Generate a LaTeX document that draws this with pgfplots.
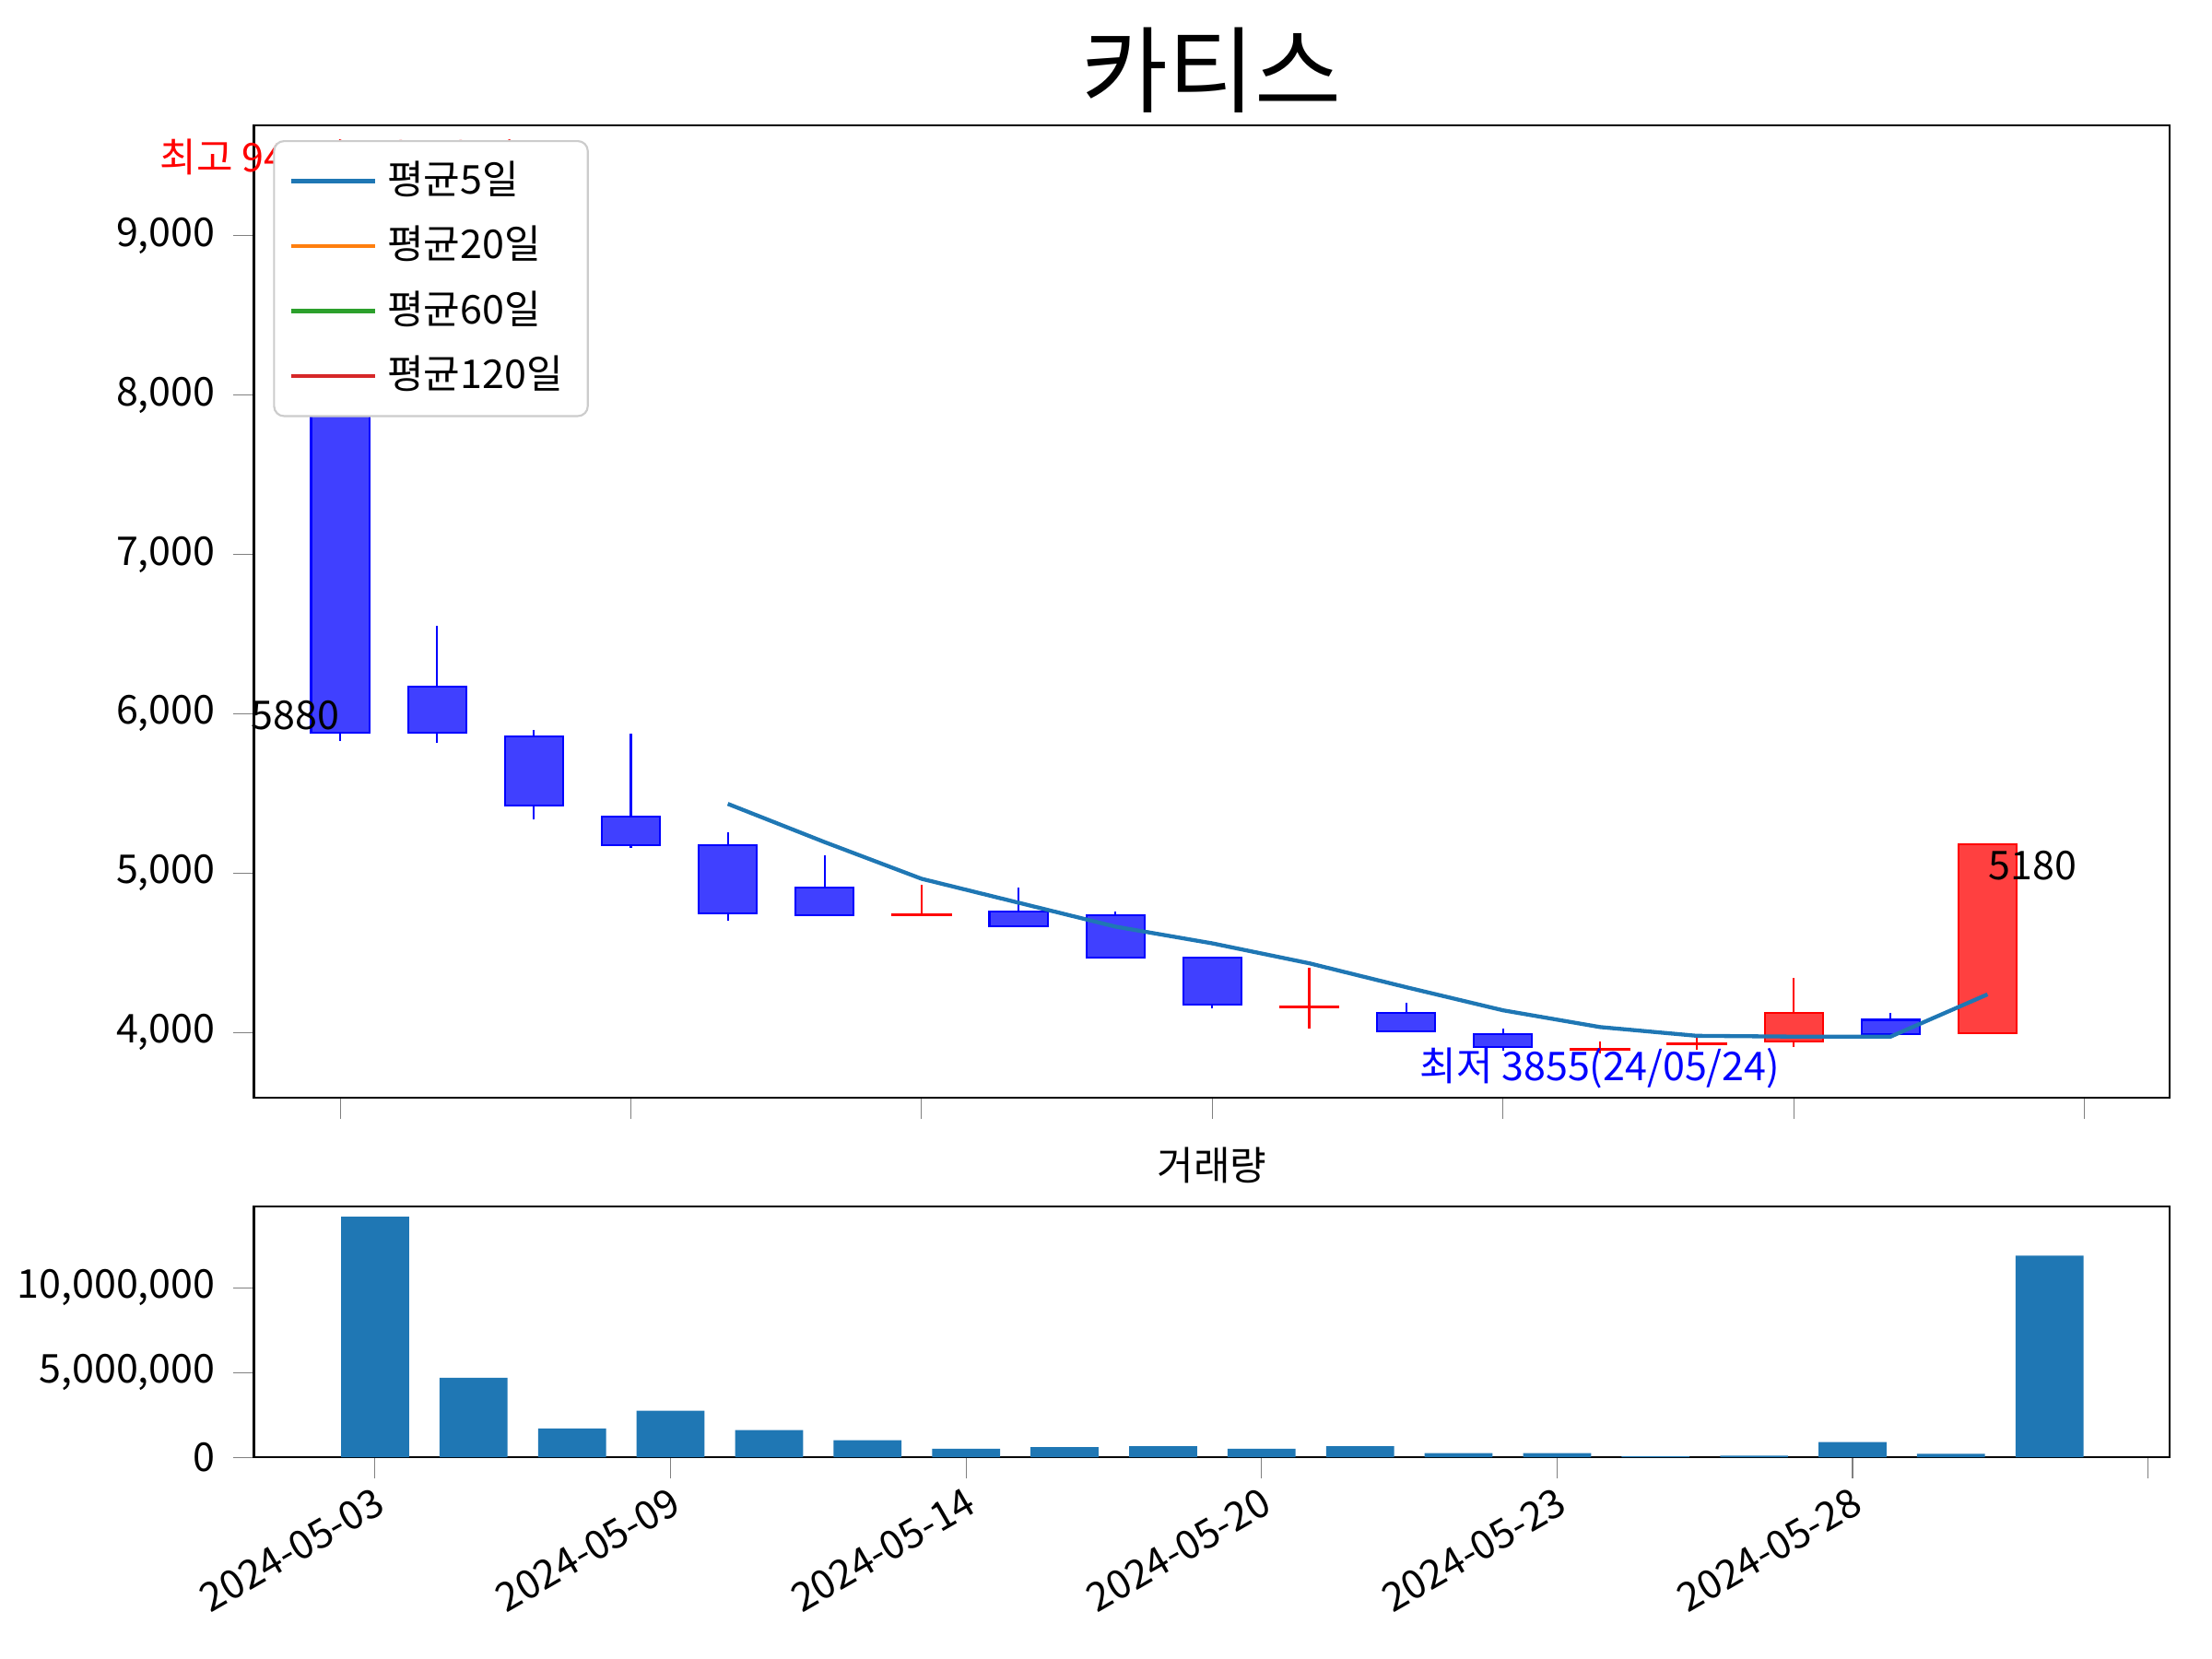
\documentclass[border=0pt]{standalone}
\usepackage{pgfplots}
\pgfplotsset{compat=1.18}
\usepackage{fontspec}
\setmainfont{Noto Sans CJK KR}
\definecolor{cA}{RGB}{31,119,180}
\definecolor{cB}{RGB}{255,127,14}
\definecolor{cC}{RGB}{44,160,44}
\definecolor{cD}{RGB}{214,39,40}
\definecolor{bluefill}{RGB}{64,64,255}
\definecolor{redfill}{RGB}{255,64,64}
% index, open, high, low, close, colour
\newcommand\candle[6]{%
\addplot[#6, thin, forget plot] coordinates {(#1,#4) (#1,#3)};
\addplot[draw=#6, fill=#6fill, forget plot] coordinates {(#1-0.3,#2) (#1+0.3,#2) (#1+0.3,#5) (#1-0.3,#5)} -- cycle;}
\newcommand\fs{\fontsize{8}{10}\selectfont}
\begin{document}
\begin{tikzpicture}
\useasboundingbox (0,0) rectangle (15.68cm,11.76cm);
\node[font=\fontsize{19}{23}\selectfont] at (8.59cm,11.26cm) {카티스};
\node[font=\fs] at (8.59cm,3.50cm) {거래량};
\begin{axis}[at={(1.80cm,3.98cm)}, anchor=south west, scale only axis,
  width=13.58cm, height=6.89cm,
  xmin=-0.89, xmax=18.88, ymin=3593, ymax=9690,
  xtick={0,3,6,9,12,15,18}, xticklabels={},
  ytick={4000,5000,6000,7000,8000,9000},
  yticklabel style={/pgf/number format/1000 sep={,}},
  /pgf/number format/assume math mode=true,
  tick label style={font=\fs},
  tick align=outside, xtick pos=bottom, ytick pos=left,
  clip=false,
  legend style={at={(0.01,0.985)}, anchor=north west, font=\fs, draw=black!20, rounded corners=2pt, row sep=1pt},
  legend cell align=left]
\candle{0}{8575}{9410}{5830}{5880}{blue}
\candle{1}{6170}{6550}{5815}{5880}{blue}
\candle{2}{5860}{5900}{5335}{5425}{blue}
\candle{3}{5355}{5875}{5160}{5175}{blue}
\candle{4}{5175}{5255}{4700}{4750}{blue}
\candle{5}{4910}{5115}{4735}{4735}{blue}
\candle{6}{4735}{4930}{4735}{4740}{red}
\candle{7}{4760}{4910}{4665}{4665}{blue}
\candle{8}{4735}{4760}{4470}{4470}{blue}
\candle{9}{4470}{4470}{4150}{4175}{blue}
\candle{10}{4160}{4405}{4025}{4165}{red}
\candle{11}{4125}{4185}{4010}{4010}{blue}
\candle{12}{3990}{4025}{3885}{3910}{blue}
\candle{13}{3895}{3945}{3870}{3900}{red}
\candle{14}{3925}{3975}{3895}{3935}{red}
\candle{15}{3945}{4345}{3910}{4125}{red}
\candle{16}{4080}{4125}{3990}{3990}{blue}
\candle{17}{3995}{5180}{3995}{5180}{red}
\addplot[cA, thick] coordinates {(4,5435)(5,5195)(6,4965)(7,4815)(8,4665)(9,4560)(10,4435)(11,4285)(12,4140)(13,4035)(14,3980)(15,3975)(16,3975)(17,4240)};
\addlegendentry{평균5일}
\addlegendimage{cB, thick}\addlegendentry{평균20일}
\addlegendimage{cC, thick}\addlegendentry{평균60일}
\addlegendimage{cD, thick}\addlegendentry{평균120일}
\node[red, font=\fs] at (axis cs:0,9480) {최고 9410(24/05/03)};
\node[anchor=east, inner sep=0pt, font=\fs] at (axis cs:0,5990) {5880};
\node[anchor=west, inner sep=0pt, font=\fs] at (axis cs:17,5045) {5180};
\node[blue, font=\fs] at (axis cs:13,3780) {최저 3855(24/05/24)};
\end{axis}
\begin{axis}[at={(1.80cm,1.43cm)}, anchor=south west, scale only axis,
  width=13.58cm, height=1.78cm,
  xmin=-1.23, xmax=18.22, ymin=0, ymax=14830000,
  xtick={0,3,6,9,12,15,18},
  xticklabels={2024-05-03,2024-05-09,2024-05-14,2024-05-20,2024-05-23,2024-05-28,},
  xticklabel style={rotate=30, anchor=north east, inner sep=1pt},
  ytick={0,5000000,10000000},
  scaled y ticks=false,
  yticklabel style={/pgf/number format/1000 sep={,}, /pgf/number format/fixed},
  /pgf/number format/assume math mode=true,
  tick label style={font=\fs},
  tick align=outside, xtick pos=bottom, ytick pos=left]
\addplot[ybar, bar width=0.69, fill=cA, draw=none] coordinates {
(0,14200000)(1,4700000)(2,1700000)(3,2750000)(4,1600000)(5,1000000)(6,500000)(7,600000)(8,650000)(9,500000)(10,650000)(11,250000)(12,250000)(13,50000)(14,100000)(15,900000)(16,200000)(17,11900000)};
\end{axis}
\end{tikzpicture}
\end{document}
